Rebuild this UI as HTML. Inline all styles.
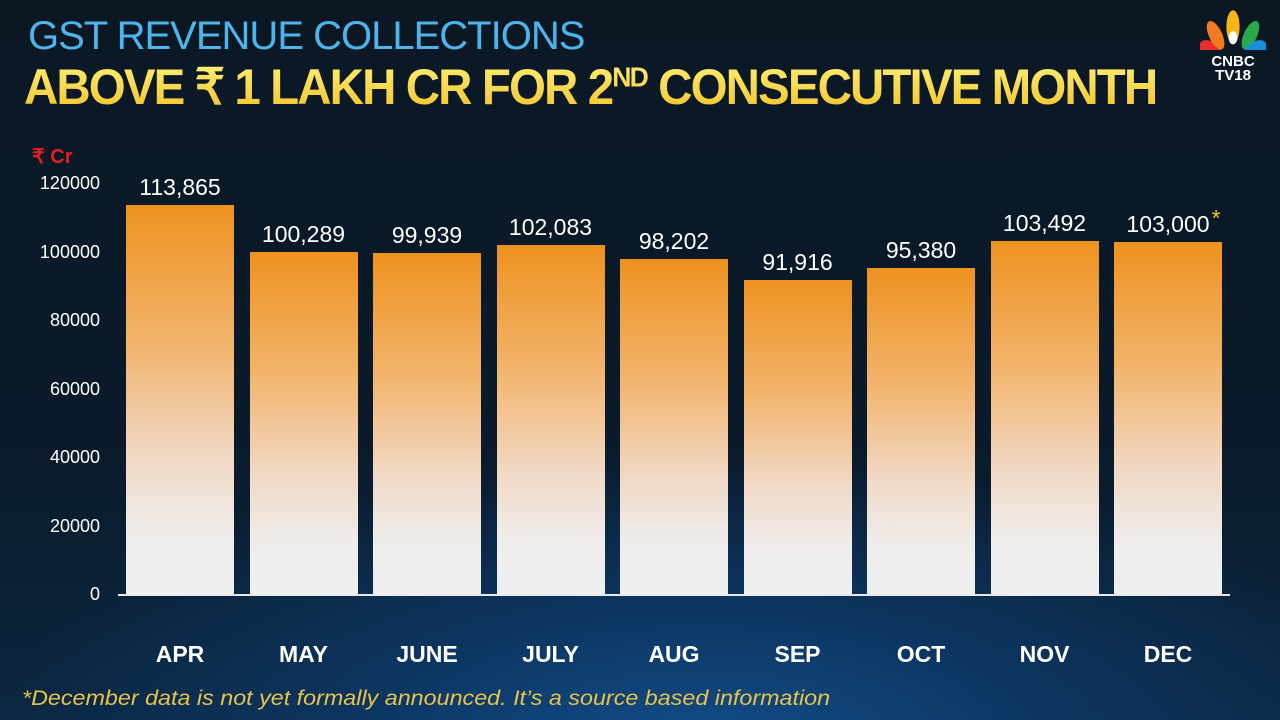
<!DOCTYPE html>
<html><head><meta charset="utf-8"><style>
body{margin:0;width:1280px;height:720px;overflow:hidden;font-family:"Liberation Sans",sans-serif;
background:radial-gradient(ellipse 900px 380px at 700px 760px,#12508e 0%,#0c3560 40%,rgba(10,30,50,0) 80%),linear-gradient(#0b1824,#0a1a2a 60%,#0b2640);position:relative}
.a{position:absolute}
.t1{left:28px;top:14px;font-size:40px;color:#4db4ec;letter-spacing:-1px;transform:scaleX(1.0);transform-origin:left}
.t2{left:24px;top:58px;font-size:50px;font-weight:bold;letter-spacing:-2px;transform:scaleX(0.95);transform-origin:left;background:linear-gradient(#fff27a,#f2c026);-webkit-background-clip:text;color:transparent}
.yl{width:70px;text-align:right;left:30px;color:#fff;font-size:18px}
.bar{width:108px;background:linear-gradient(#ee9220,#f2b36a 35%,#f1d9c6 65%,#efedec 85%,#efefef)}
.v{width:140px;text-align:center;color:#fff;font-size:23px}
.m{width:140px;text-align:center;color:#fff;font-size:23px;font-weight:bold}
</style></head><body>
<div class="a t1">GST REVENUE COLLECTIONS</div>
<div class="a t2">ABOVE ₹ 1 LAKH CR FOR 2<sup style="font-size:28px">ND</sup> CONSECUTIVE MONTH</div>
<div class="a" style="left:1198px;top:10px;width:70px;text-align:center">
<svg width="66" height="40" viewBox="0 0 60 34"><g>
<ellipse cx="14" cy="20" rx="8" ry="13" fill="#e8312f" transform="rotate(-50 30 32)"/>
<ellipse cx="20" cy="16" rx="6" ry="14" fill="#f47a20" transform="rotate(-25 30 32)"/>
<ellipse cx="30" cy="14" rx="6" ry="15" fill="#fbb415"/>
<ellipse cx="40" cy="16" rx="6" ry="14" fill="#2aa84a" transform="rotate(25 30 32)"/>
<ellipse cx="46" cy="20" rx="8" ry="13" fill="#1a8fd6" transform="rotate(50 30 32)"/>
<ellipse cx="30" cy="24" rx="4" ry="6" fill="#fff"/></g></svg>
<div style="color:#fff;font-weight:bold;font-size:15px;line-height:14px">CNBC<br>TV18</div></div>
<div class="a" style="left:32px;top:144px;color:#e02020;font-size:20px;font-weight:bold">₹ Cr</div>
<div class="a yl" style="top:173px">120000</div>
<div class="a yl" style="top:242px">100000</div>
<div class="a yl" style="top:310px">80000</div>
<div class="a yl" style="top:379px">60000</div>
<div class="a yl" style="top:447px">40000</div>
<div class="a yl" style="top:516px">20000</div>
<div class="a yl" style="top:584px">0</div>
<div class="a" style="left:118px;top:594px;width:1112px;height:2px;background:#e8e8e8"></div>
<div id="c"></div>
<script>
var d=[["APR",113865,"113,865"],["MAY",100289,"100,289"],["JUNE",99939,"99,939"],["JULY",102083,"102,083"],["AUG",98202,"98,202"],["SEP",91916,"91,916"],["OCT",95380,"95,380"],["NOV",103492,"103,492"],["DEC",103000,"103,000"]];
var h="";d.forEach(function(e,i){var x=126+i*123.5,t=595-e[1]*0.003425;
h+='<div class="a bar" style="left:'+x+'px;top:'+t+'px;height:'+(595-t)+'px"></div>';
h+='<div class="a v" style="left:'+(x-16)+'px;top:'+(t-31)+'px">'+e[2]+(i==8?'<span style="color:#f5c518;position:absolute;top:-6px;margin-left:2px">*</span>':'')+'</div>';
h+='<div class="a m" style="left:'+(x-16)+'px;top:641px">'+e[0]+'</div>';});
document.getElementById("c").innerHTML=h;
</script>
<div class="a" style="left:22px;top:687px;color:#e9c34a;font-size:21px;font-style:italic;transform:scaleX(1.11);transform-origin:left">*December data is not yet formally announced. It’s a source based information</div>
</body></html>
